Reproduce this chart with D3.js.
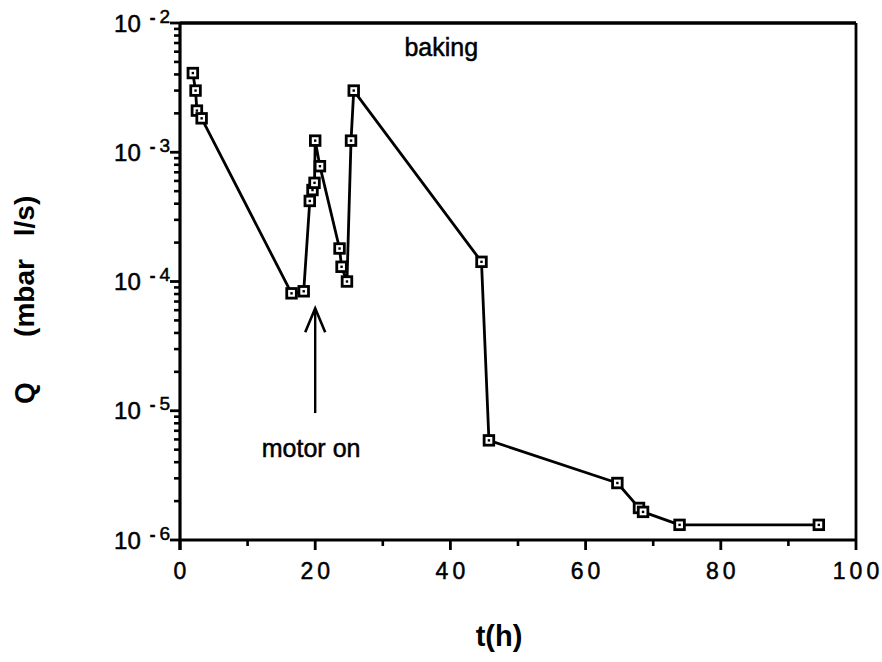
<!DOCTYPE html>
<html>
<head>
<meta charset="utf-8">
<script src="https://cdn.jsdelivr.net/npm/d3@7"></script>
<style>
  html, body { margin: 0; padding: 0; background: #fff; }
  svg { display: block; }
  text { font-family: "Liberation Sans", Arial, Helvetica, sans-serif; fill: #000; }
  .thick { stroke: #000; stroke-width: 0.5px; }
</style>
</head>
<body>
<svg id="chart" width="882" height="662"></svg>
<script>
// ---- data ----
const tHours = [1.9, 2.3, 2.5, 3.2, 16.5, 18.3, 19.2, 19.6, 19.9, 20.0, 20.7, 23.6, 23.9, 24.7, 25.3, 25.7, 44.6, 45.7, 64.7, 67.9, 68.5, 73.9, 94.5];
const qLeak  = [4.1e-3, 3.0e-3, 2.1e-3, 1.83e-3, 8.1e-5, 8.4e-5, 4.2e-4, 5.1e-4, 5.8e-4, 1.23e-3, 7.8e-4, 1.8e-4, 1.3e-4, 1.0e-4, 1.23e-3, 3.0e-3, 1.42e-4, 5.9e-6, 2.76e-6, 1.77e-6, 1.65e-6, 1.31e-6, 1.31e-6];
const xTicks = [0, 20, 40, 60, 80, 100];
const xMinorTicks = [10, 30, 50, 70, 90];
const yExponents = [-2, -3, -4, -5, -6];
const xTitle = "t(h)";
const yTitleParts = ["Q", "(mbar", "l/s)"];
const bakingLabel = {text: "baking", t: 33.2, q: 5.6e-3};
const motorLabel = {text: "motor on", t: 12.1, q: 4.4e-6};
const motorArrow = {t: 20.0, qFrom: 9.6e-6, qTo: 6.2e-5};

// ---- layout ----
const svg = d3.select("#chart");
const x = d3.scaleLinear().domain([0, 100]).range([180, 856]);
const y = d3.scaleLog().domain([1e-6, 1e-2]).range([540, 23]);

// frame (top and right)
svg.append("line").attr("x1", x(0)).attr("x2", x(100)).attr("y1", y(1e-2)).attr("y2", y(1e-2))
  .attr("stroke", "#000").attr("stroke-width", 3.4);
svg.append("line").attr("x1", x(100)).attr("x2", x(100)).attr("y1", y(1e-2)).attr("y2", y(1e-6))
  .attr("stroke", "#000").attr("stroke-width", 2.8);

// x axis
const xAxisG = svg.append("g").attr("transform", `translate(0,${y(1e-6)})`);
xAxisG.append("line").attr("x1", x(0) - 1).attr("x2", x(100) + 1).attr("stroke", "#000").attr("stroke-width", 3.2);
xAxisG.selectAll(".xmaj").data(xTicks).enter().append("line")
  .attr("x1", d => x(d)).attr("x2", d => x(d)).attr("y1", 0).attr("y2", 10)
  .attr("stroke", "#000").attr("stroke-width", 2.8);
xAxisG.selectAll(".xmin").data(xMinorTicks).enter().append("line")
  .attr("x1", d => x(d)).attr("x2", d => x(d)).attr("y1", 0).attr("y2", 6)
  .attr("stroke", "#000").attr("stroke-width", 2.6);
const xl = xAxisG.selectAll(".xlab").data(xTicks).enter().append("text")
  .attr("class", "thick")
  .attr("x", d => x(d)).attr("y", 39)
  .attr("text-anchor", "middle")
  .attr("font-size", 23);
xl.selectAll("tspan").data(d => String(d).split("")).enter().append("tspan")
  .attr("dx", (c, i) => i === 0 ? 0 : 4).text(c => c);

// y axis
const yAxisG = svg.append("g").attr("transform", `translate(${x(0)},0)`);
yAxisG.append("line").attr("y1", y(1e-2) - 1).attr("y2", y(1e-6) + 10).attr("stroke", "#000").attr("stroke-width", 3.2);
const minorY = [];
for (let e = -6; e < -2; e++) for (let m = 2; m <= 9; m++) minorY.push(m * Math.pow(10, e));
yAxisG.selectAll(".ymin").data(minorY).enter().append("line")
  .attr("x1", -6).attr("x2", 0).attr("y1", d => y(d)).attr("y2", d => y(d))
  .attr("stroke", "#000").attr("stroke-width", 2.6);
yAxisG.selectAll(".ymaj").data(yExponents).enter().append("line")
  .attr("x1", -10).attr("x2", 0).attr("y1", d => y(Math.pow(10, d))).attr("y2", d => y(Math.pow(10, d)))
  .attr("stroke", "#000").attr("stroke-width", 2.8);
const yl = yAxisG.selectAll(".ylab").data(yExponents).enter().append("text")
  .attr("class", "thick")
  .attr("x", -10).attr("y", d => y(Math.pow(10, d)) + 8.5)
  .attr("text-anchor", "end").attr("font-size", 24);
yl.append("tspan").text("10");
yl.append("tspan").attr("dx", 9).attr("dy", -9).attr("font-size", 17).attr("font-weight", "bold").text("-");
yl.append("tspan").attr("dx", 4).attr("font-size", 19).text(d => String(-d));

// axis titles
svg.append("text").attr("x", 499).attr("y", 646).attr("text-anchor", "middle")
  .attr("font-size", 29).attr("font-weight", "bold").text(xTitle);
const yTitlePos = [393, 298, 216];
svg.selectAll(".ytitle").data(yTitleParts).enter().append("text")
  .attr("transform", (d, i) => `translate(34,${yTitlePos[i]}) rotate(-90)`)
  .attr("text-anchor", "middle").attr("font-size", 28).attr("font-weight", "bold")
  .text(d => d);

// data line
const line = d3.line().x((d, i) => x(tHours[i])).y(d => y(d));
svg.append("path").datum(qLeak).attr("d", line)
  .attr("fill", "none").attr("stroke", "#000").attr("stroke-width", 2.8).attr("stroke-linejoin", "round");

// markers
const mk = svg.selectAll(".mk").data(qLeak).enter().append("g")
  .attr("transform", (d, i) => `translate(${x(tHours[i])},${y(d)})`);
mk.append("rect").attr("x", -4.8).attr("y", -4.8).attr("width", 9.6).attr("height", 9.6)
  .attr("fill", "#fff").attr("stroke", "#000").attr("stroke-width", 2.8);
mk.append("rect").attr("x", -1.2).attr("y", -1.2).attr("width", 2.4).attr("height", 2.4).attr("fill", "#000");

// annotations
svg.append("text").attr("class", "thick").attr("x", x(bakingLabel.t)).attr("y", y(bakingLabel.q))
  .attr("font-size", 25).text(bakingLabel.text);
svg.append("text").attr("class", "thick").attr("x", x(motorLabel.t)).attr("y", y(motorLabel.q))
  .attr("font-size", 25).text(motorLabel.text);
const ax = x(motorArrow.t), ayTop = y(motorArrow.qTo), ayBot = y(motorArrow.qFrom);
svg.append("line").attr("x1", ax).attr("x2", ax).attr("y1", ayBot).attr("y2", ayTop + 2)
  .attr("stroke", "#000").attr("stroke-width", 2.4);
svg.append("path").attr("d", `M${ax - 10},${ayTop + 24} L${ax},${ayTop} L${ax + 10},${ayTop + 24}`)
  .attr("fill", "none").attr("stroke", "#000").attr("stroke-width", 2.6).attr("stroke-linejoin", "miter");
</script>
</body>
</html>
